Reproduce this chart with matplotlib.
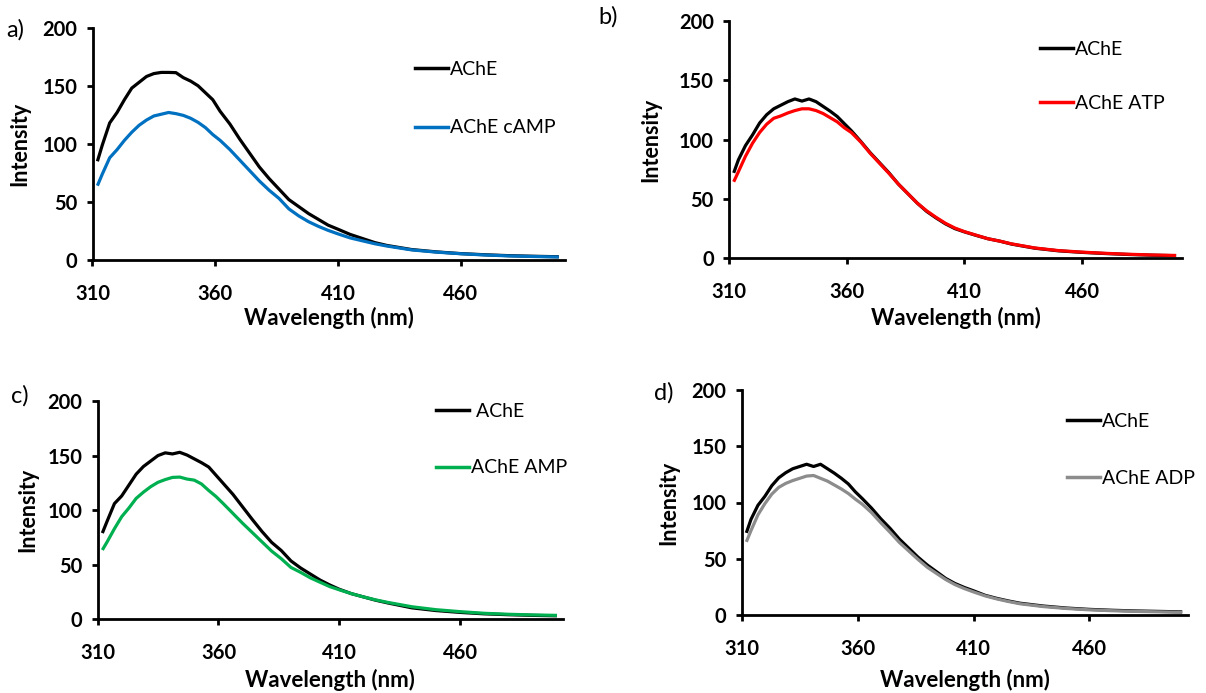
import matplotlib
matplotlib.use("Agg")
import matplotlib.pyplot as plt
from matplotlib.lines import Line2D

plt.rcParams['font.family'] = ['Lato', 'DejaVu Sans']

# Emission wavelengths (nm)
wavelength = [312, 314, 317, 320, 323, 326, 329, 332, 335, 338, 341, 344, 347, 350,
              353, 356, 359, 362, 366, 370, 374, 378, 382, 386, 390, 394, 398, 402,
              406, 410, 415, 420, 425, 430, 440, 450, 460, 470, 480, 490, 500]

# a) AChE vs AChE + cAMP
ache_a = [85, 99, 118, 127, 138, 148, 153, 158, 160.5, 161.5, 161.5, 161.3, 157, 154,
          150, 144, 138, 128, 117, 104, 92, 80, 70, 61, 52, 46, 40, 35,
          30, 26.5, 22, 18.5, 15, 12.5, 9, 7, 5.5, 4.5, 3.7, 3.2, 2.8]
camp_a = [64, 74, 88, 95, 103, 110, 116, 120.5, 124, 125.5, 127, 126, 124.5, 122,
          118.5, 114, 108, 103, 95, 86, 77, 68, 60, 53, 44, 38, 33, 29,
          25.5, 22.5, 19, 16.5, 14, 12, 8.7, 6.8, 5.4, 4.3, 3.5, 3.0, 2.6]

# b) AChE vs AChE + ATP
ache_b = [72, 83, 95, 104, 114, 121, 126, 129, 132, 134.3, 132.5, 134.3, 132, 128,
          124, 119.5, 113.5, 107.5, 98.5, 89, 80.5, 72, 62.5, 54.5, 46.5, 39.5, 34, 29,
          25, 22.3, 19.3, 16.5, 14.5, 12, 8.5, 6.3, 5, 4, 3.2, 2.6, 2.2]
atp_b = [64.5, 73, 86, 97, 106, 113, 118, 120, 122.5, 124.5, 126, 126, 124.5, 122,
         118.5, 115, 110, 106, 98, 88.5, 80, 71.5, 62.5, 54.5, 46.5, 40, 34.5, 29.5,
         25.5, 22.5, 19.5, 16.5, 14.5, 12.2, 8.7, 6.5, 5.2, 4.2, 3.4, 2.8, 2.4]

# c) AChE vs AChE + AMP
ache_c = [79, 90, 106, 113, 123, 133, 140, 145, 150, 152.5, 151.5, 153, 150.5, 147,
          143.5, 139.5, 132, 124.5, 114.5, 103, 91.5, 80.5, 70.5, 63, 53.5, 47, 41.5, 36,
          31.5, 27.5, 23.5, 20.5, 17.5, 15, 10.5, 8, 6.3, 5, 4.2, 3.6, 3.2]
amp_c = [63.5, 71, 83, 94, 102, 110.8, 116.5, 121.5, 125.5, 128, 130, 130.3, 128.5, 127.5,
         124, 118, 112.5, 106, 97, 88, 79.5, 71, 62.5, 55.5, 47.5, 43, 38, 34,
         30, 27, 23.5, 20.5, 17.8, 15.5, 11.5, 8.8, 7, 5.5, 4.6, 4, 3.6]

# d) AChE vs AChE + ADP
ache_d = [73, 85, 97.5, 105.5, 115, 122, 126.5, 130, 132, 134, 132, 134, 130, 126,
          121.5, 116.5, 109.5, 103.5, 95, 85.5, 77, 67.5, 59.5, 51.5, 44.5, 38.5, 32.5, 28,
          24.5, 21.5, 17.5, 14.8, 12.5, 10.5, 8, 6.2, 5, 4.2, 3.6, 3.2, 2.8]
adp_d = [65, 75, 89, 99, 107.5, 113.5, 117, 119.5, 121.5, 123.5, 124, 121.5, 119, 115.5,
         112, 108, 103, 98.5, 91, 82, 73.5, 64.5, 57, 49.5, 42.5, 37, 31.5, 27,
         23.5, 20.5, 17, 14.3, 12, 10, 7.5, 5.8, 4.6, 3.8, 3.2, 2.8, 2.4]

x_ticks = [310, 360, 410, 460]
y_ticks = [0, 50, 100, 150, 200]

W, H = 1206, 693
fig = plt.figure(figsize=(W / 100, H / 100), dpi=100)


def px_axes(left, top, right, bottom):
    return fig.add_axes([left / W, 1 - bottom / H, (right - left) / W, (bottom - top) / H])


def fx(x):
    return x / W


def fy(y):
    return 1 - y / H


panels = [
    # tag, axes box (px), series, labels, colour, legend anchor, legend spacing,
    # tag position, y-label centre x, x-label centre y
    ("a)", (92.5, 27.7, 565, 260), (ache_a, camp_a), ("AChE", "AChE cAMP"),
     "#0070C0", (415, 61), 2.13, (6, 30), 20, 318),
    ("b)", (729, 21, 1182, 258.3), (ache_b, atp_b), ("AChE", "AChE ATP"),
     "#FF0000", (1040, 41), 1.88, (598, 17), 651, 318),
    ("c)", (97.5, 401, 563, 619.3), (ache_c, amp_c), (" AChE", "AChE AMP"),
     "#00B050", (436, 403), 2.03, (11, 396), 28, 680),
    ("d)", (741.7, 390, 1188, 615), (ache_d, adp_d), ("AChE", "AChE ADP"),
     "#8C8C8C", (1067, 413), 2.05, (654, 393), 669, 680),
]

for tag, box, series, labels, color, leg_xy, spacing, tag_xy, ylab_x, xlab_y in panels:
    ax = px_axes(*box)
    ref, treated = series
    ax.plot(wavelength, ref, color="black", lw=2.3, solid_capstyle="butt", zorder=3)
    ax.plot(wavelength, treated, color=color, lw=2.3, solid_capstyle="butt", zorder=4)
    ax.set_xlim(310, 502.5)
    ax.set_ylim(0, 200)
    ax.set_xticks(x_ticks)
    ax.set_yticks(y_ticks)
    for side in ("top", "right"):
        ax.spines[side].set_visible(False)
    for side in ("left", "bottom"):
        ax.spines[side].set_linewidth(2.0)
    ax.tick_params(axis="both", width=2.0, length=4, labelsize=14.5, colors="black")
    ax.tick_params(axis="x", pad=13)
    ax.tick_params(axis="y", pad=7)
    for lab in ax.get_xticklabels() + ax.get_yticklabels():
        lab.set_fontweight("bold")

    ax.set_xlabel("Wavelength (nm)", fontsize=16, fontweight="bold")
    ax.xaxis.set_label_coords(fx((box[0] + box[2]) / 2), fy(xlab_y),
                              transform=fig.transFigure)
    ax.xaxis.label.set_verticalalignment("center")
    ax.set_ylabel("Intensity", fontsize=15.5, fontweight="bold")
    ax.yaxis.set_label_coords(fx(ylab_x), fy((box[1] + box[3]) / 2),
                              transform=fig.transFigure)
    ax.yaxis.label.set_verticalalignment("center")

    handles = [Line2D([], [], color="black", lw=2.5),
               Line2D([], [], color=color, lw=2.5)]
    ax.legend(handles, labels, loc="upper left",
              bbox_to_anchor=(fx(leg_xy[0]), fy(leg_xy[1])),
              bbox_transform=fig.transFigure, frameon=False, fontsize=14,
              handlelength=1.7, handletextpad=0.1, labelspacing=spacing,
              borderpad=0, borderaxespad=0)
    fig.text(fx(tag_xy[0]), fy(tag_xy[1]), tag, fontsize=17, va="center", ha="left")

fig.savefig("out.png", dpi=100, facecolor="white")
